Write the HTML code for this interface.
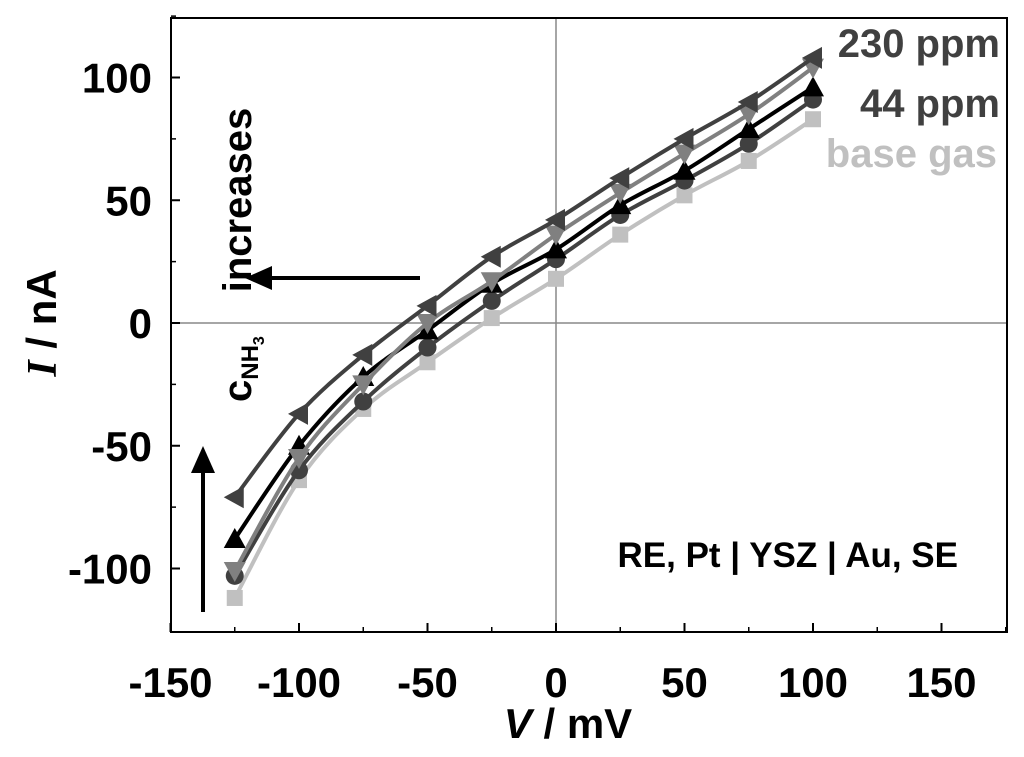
<!DOCTYPE html>
<html><head><meta charset="utf-8"><style>
html,body{margin:0;padding:0;background:#fff;}
svg{display:block;font-family:"Liberation Sans",sans-serif;font-weight:bold;}
</style></head><body>
<svg id="chart" width="1024" height="757" viewBox="0 0 1024 757">
<g id="grid"></g><g id="axes"></g><g id="series"></g>
<text transform="translate(56,323) rotate(-90)" text-anchor="middle" font-size="42"><tspan font-family="Liberation Serif" font-style="italic">I</tspan> / nA</text>
<text x="568" y="738" text-anchor="middle" font-size="42"><tspan font-style="italic">V</tspan> / mV</text>
<text x="1000" y="57" text-anchor="end" font-size="40" fill="#404040">230 ppm</text>
<text x="1000" y="117" text-anchor="end" font-size="40" fill="#404040">44 ppm</text>
<text x="997" y="167" text-anchor="end" font-size="40" fill="#c0c0c0">base gas</text>
<text x="958" y="567" text-anchor="end" font-size="35">RE, Pt | YSZ | Au, SE</text>
<text transform="translate(251,200) rotate(-90)" text-anchor="middle" font-size="40">increases</text>
<text transform="translate(251,402) rotate(-90)" font-size="40">c<tspan font-size="24" dy="7">NH</tspan><tspan font-size="16" dy="6">3</tspan></text>
<g><line x1="420" y1="278" x2="265" y2="278" stroke="#000" stroke-width="4"/><polygon points="245,278 272,266 272,290" fill="#000"/></g>
<g><line x1="203" y1="612" x2="203" y2="468" stroke="#000" stroke-width="4"/><polygon points="203,446 191,473 215,473" fill="#000"/></g>
</svg>
<script>
const xVals=[-125,-100,-75,-50,-25,0,25,50,75,100];
const baseGas=[-112,-64,-35,-16,2,18,36,52,66,83];
const circles=[-103,-60,-32,-10,9,26,44,58,73,91];
const upTri=[-88,-50,-22,-3,16,30,48,62,79,96];
const downTri=[-101,-55,-25,0,17,36,53,69,85,104];
const ppm230=[-71,-37,-13,7,27,42,59,75,90,108];
const xTicks=[-150,-100,-50,0,50,100,150];
const yTicks=[-100,-50,0,50,100];
const NS="http://www.w3.org/2000/svg";
const L=171,R=1007,T=18,B=632;
const X=v=>556+v*2.57;
const Y=v=>323-v*2.455;
function mk(tag,attrs,parent){const e=document.createElementNS(NS,tag);for(const k in attrs)e.setAttribute(k,attrs[k]);parent.appendChild(e);return e;}
const grid=document.getElementById('grid'),axes=document.getElementById('axes'),ser=document.getElementById('series');
let g1=mk('line',{x1:X(0),x2:X(0),y1:T,y2:B,stroke:'#888','stroke-width':1.5},grid);

let g2=mk('line',{x1:L,x2:R,y1:Y(0),y2:Y(0),stroke:'#888','stroke-width':1.5},grid);

let fr=mk('rect',{x:L,y:T,width:R-L,height:B-T,fill:'none',stroke:'#000','stroke-width':2},axes);

xTicks.forEach(t=>{
 mk('line',{x1:X(t),x2:X(t),y1:B,y2:B-9,stroke:'#000','stroke-width':2},axes);
 mk('line',{x1:X(t+25),x2:X(t+25),y1:B,y2:B-5,stroke:'#000','stroke-width':1.5},axes);
 const tx=mk('text',{x:X(t),y:697,'text-anchor':'middle','font-size':42},axes);tx.textContent=t;
 
});
yTicks.forEach(t=>{
 mk('line',{x1:L,x2:L+9,y1:Y(t),y2:Y(t),stroke:'#000','stroke-width':2},axes);
 mk('line',{x1:L,x2:L+5,y1:Y(t+25),y2:Y(t+25),stroke:'#000','stroke-width':1.5},axes);
 const ty=mk('text',{x:152,y:Y(t)+15,'text-anchor':'end','font-size':42},axes);ty.textContent=t;
 
});
function path(ys){const p=xVals.map((x,i)=>[X(x),Y(ys[i])]);let d='M'+p[0];
 for(let i=0;i<p.length-1;i++){const p0=p[i-1]||p[i],p1=p[i],p2=p[i+1],p3=p[i+2]||p2;
  d+=` C${p1[0]+(p2[0]-p0[0])/6},${p1[1]+(p2[1]-p0[1])/6} ${p2[0]-(p3[0]-p1[0])/6},${p2[1]-(p3[1]-p1[1])/6} ${p2[0]},${p2[1]}`;}
 return d;}
function marker(type,x,y,c,g){const s=10;let e;
 if(type==='sq')e=mk('rect',{x:x-8,y:y-8,width:16,height:16,fill:c},g);
 else if(type==='ci')e=mk('circle',{cx:x,cy:y,r:9,fill:c},g);
 else if(type==='up')e=mk('polygon',{points:`${x},${y-s-1} ${x-s-1},${y+s-1} ${x+s+1},${y+s-1}`,fill:c},g);
 else if(type==='dn')e=mk('polygon',{points:`${x},${y+s+1} ${x-s-1},${y-s+1} ${x+s+1},${y-s+1}`,fill:c},g);
 else e=mk('polygon',{points:`${x-s-1},${y} ${x+s-1},${y-s-1} ${x+s-1},${y+s+1}`,fill:c},g);
 return e;}
const list=[['base-gas',baseGas,'#c0c0c0','sq'],['series-circles',circles,'#404040','ci'],['series-up-triangles',upTri,'#000','up'],['series-down-triangles',downTri,'#808080','dn'],['series-230ppm',ppm230,'#404040','lt']];
list.forEach(([n,ys,c,m])=>{
 const g=mk('g',{},ser);
 
 
 mk('path',{d:path(ys),fill:'none',stroke:c,'stroke-width':4},g);
 xVals.forEach((x,i)=>{const e=marker(m,X(x),Y(ys[i]),c,g);
  
  });
});
</script>
</body></html>
